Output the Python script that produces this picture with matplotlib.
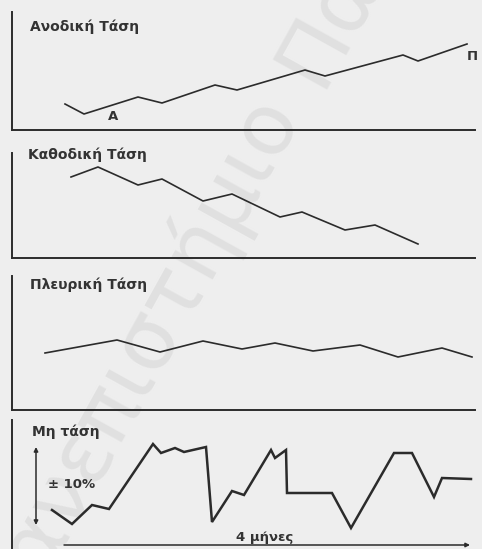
import matplotlib
matplotlib.use("Agg")
import matplotlib.pyplot as plt

# Ανοδική τάση
up_x = [53, 72, 126, 150, 203, 225, 293, 313, 391, 406, 455]
up_y = [26, 16, 33, 27, 45, 40, 60, 54, 75, 69, 86]

# Καθοδική τάση
down_x = [59, 86, 126, 150, 191, 220, 268, 290, 333, 363, 406]
down_y = [81, 91, 73, 79, 57, 64, 41, 46, 28, 33, 14]

# Πλευρική τάση
side_x = [33, 105, 148, 191, 230, 263, 301, 348, 386, 430, 460]
side_y = [57, 70, 58, 69, 61, 67, 59, 65, 53, 62, 53]

# Μη τάση
none_x = [40, 60, 80, 97, 141, 149, 163, 172, 194, 200, 220, 232, 259, 263,
          274, 275, 320, 339, 382, 400, 422, 430, 459]
none_y = [39, 25, 44, 40, 105, 96, 101, 97, 102, 27, 58, 54, 99, 91,
          99, 56, 56, 21, 96, 96, 52, 71, 70]

W, H = 482, 549
BG = '#eeeeee'
INK = '#2b2b2b'

fig = plt.figure(figsize=(W / 100, H / 100), dpi=100, facecolor=BG)


def panel(top, bottom, left=12, right=475):
    ax = fig.add_axes([left / W, 1 - bottom / H, (right - left) / W, (bottom - top) / H])
    ax.patch.set_visible(False)
    ax.set_xlim(0, right - left)
    ax.set_ylim(0, bottom - top)
    ax.set_xticks([])
    ax.set_yticks([])
    for s in ['top', 'right']:
        ax.spines[s].set_visible(False)
    for s in ['left', 'bottom']:
        ax.spines[s].set_color(INK)
        ax.spines[s].set_linewidth(1.4)
    return ax


title_kw = dict(fontsize=10, fontweight='bold', color='#333333', ha='left',
                va='center', family='DejaVu Sans')
small_kw = dict(fontsize=9.5, fontweight='bold', color='#333333', family='DejaVu Sans')

# υδατογράφημα
wm = dict(fontsize=62, color='#e0e0e0', rotation=61, rotation_mode='anchor',
          va='baseline', zorder=-5, family='DejaVu Sans')
fig.text(298 / W, 1 - 111 / H, "Πανεπιστήμιο", ha='right', **wm)
fig.text(319 / W, 1 - 89 / H, "Πατρών", ha='left', **wm)

ax1 = panel(12, 130)
ax1.plot(up_x, up_y, color=INK, lw=1.2)
ax1.text(18, 103, "Ανοδική Τάση", **title_kw)
ax1.text(101, 13, "Α", ha='center', va='center', **small_kw)
ax1.text(455, 73, "Π", ha='left', va='center', clip_on=False, **small_kw)

ax2 = panel(153, 258)
ax2.plot(down_x, down_y, color=INK, lw=1.2)
ax2.text(16, 103, "Καθοδική Τάση", **title_kw)

ax3 = panel(276, 410)
ax3.plot(side_x, side_y, color=INK, lw=1.2)
ax3.text(18, 125, "Πλευρική Τάση", **title_kw)

ax4 = panel(420, 549)
ax4.spines['bottom'].set_visible(False)
ax4.plot(none_x, none_y, color=INK, lw=1.8, solid_joinstyle='miter')
ax4.text(20, 117, "Μη τάση", **title_kw)
ax4.annotate("", xy=(24, 24), xytext=(24, 102),
             arrowprops=dict(arrowstyle='<|-|>', color=INK, lw=1.1,
                             mutation_scale=6, shrinkA=0, shrinkB=0))
ax4.text(36, 64, "± 10%", ha='left', va='center', **small_kw)
ax4.annotate("", xy=(458, 4), xytext=(52, 4),
             arrowprops=dict(arrowstyle='-|>', color=INK, lw=1.1,
                             mutation_scale=6, shrinkA=0, shrinkB=0))
ax4.text(253, 12, "4 μήνες", ha='center', va='center', **small_kw)

fig.savefig("out.png", dpi=100, facecolor=BG)
